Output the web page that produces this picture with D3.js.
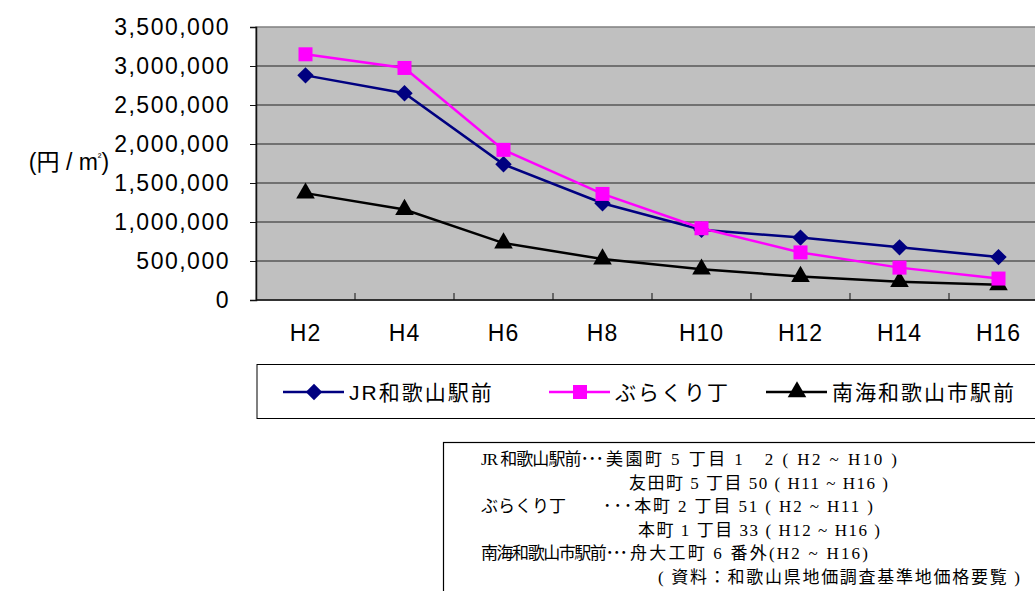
<!DOCTYPE html>
<html>
<head>
<meta charset="utf-8">
<script src="https://cdn.jsdelivr.net/npm/d3@7/dist/d3.min.js"></script>
<style>
  html, body { margin: 0; padding: 0; background: #fff; }
  svg { display: block; }
  .num { font-family: "Liberation Sans", Arial, sans-serif; }
  .jp { font-family: "Liberation Sans", "Noto Sans CJK JP", sans-serif; }
  .note { font-family: "Liberation Serif", "Noto Sans CJK JP", serif; }
</style>
</head>
<body>
<svg id="chart" width="1035" height="591"></svg>
<script>
// Land price per square metre around Wakayama station areas (Heisei years)
const categories = ["H2", "H4", "H6", "H8", "H10", "H12", "H14", "H16"];
const jrWakayama   = [2880000, 2650000, 1740000, 1240000, 900000, 800000, 675000, 550000];
const burakuri     = [3150000, 2975000, 1925000, 1360000, 920000, 610000, 415000, 275000];
const nankaiShi    = [1370000, 1160000, 730000, 525000, 395000, 300000, 235000, 195000];
const seriesNames  = ["JR和歌山駅前", "ぶらくり丁", "南海和歌山市駅前"];
const yTicks       = [0, 500000, 1000000, 1500000, 2000000, 2500000, 3000000, 3500000];
const yUnitLabel   = ["(円 / m", "²", ")"];
// note text segments: [text, start x, end x]
const noteLines = [
  [["JR 和歌山駅前･･･", 481, 604], ["美園町 5 丁目 1　2 ( H2 ~ H10 )", 606, 897]],
  [["友田町 5 丁目 50 ( H11 ~ H16 )", 629, 888]],
  [["ぶらくり丁", 481, 566], ["･･･本町 2 丁目 51 ( H2 ~ H11 )", 603, 873]],
  [["本町 1 丁目 33 ( H12 ~ H16 )", 638, 880]],
  [["南海和歌山市駅前･･･", 481, 628], ["舟大工町 6 番外(H2 ~ H16)", 630, 868]],
  [["( 資料：和歌山県地価調査基準地価格要覧 )", 658, 1020]]
];

const svg = d3.select("#chart");

const plot = { left: 256, top: 27, width: 792, height: 273 };
const x = d3.scaleBand().domain(categories).range([plot.left, plot.left + plot.width]);
const y = d3.scaleLinear().domain([0, 3500000]).range([plot.top + plot.height, plot.top]);
const cx = d => x(d) + x.bandwidth() / 2;

// plot area background
svg.append("rect")
  .attr("x", plot.left).attr("y", plot.top)
  .attr("width", plot.width).attr("height", plot.height)
  .attr("fill", "#c0c0c0").attr("stroke", "#808080").attr("stroke-width", 1.5);

// horizontal gridlines
svg.append("g").selectAll("line")
  .data(yTicks.filter(v => v > 0 && v < 3500000))
  .join("line")
  .attr("x1", plot.left).attr("x2", plot.left + plot.width)
  .attr("y1", d => y(d)).attr("y2", d => y(d))
  .attr("stroke", "#222").attr("stroke-width", 1);

// y axis
const yAxis = svg.append("g")
  .attr("transform", `translate(${plot.left},0)`)
  .call(d3.axisLeft(y).tickValues(yTicks).tickFormat(d3.format(",")).tickSize(6).tickPadding(20));
yAxis.select(".domain").attr("stroke", "#111").attr("stroke-width", 1.5);
yAxis.selectAll(".tick line").attr("stroke", "#111");
yAxis.selectAll("text")
  .attr("class", "num")
  .attr("font-size", 23)
  .attr("letter-spacing", "1.5px")
  .attr("fill", "#000");

// x axis (ticks between categories, pointing inward)
const xAxisG = svg.append("g").attr("transform", `translate(0,${plot.top + plot.height})`);
xAxisG.append("line")
  .attr("x1", plot.left).attr("x2", plot.left + plot.width)
  .attr("stroke", "#111").attr("stroke-width", 1.5);
xAxisG.selectAll("line.tk")
  .data(categories.slice(1))
  .join("line").attr("class", "tk")
  .attr("x1", d => x(d)).attr("x2", d => x(d))
  .attr("y1", 0).attr("y2", -7)
  .attr("stroke", "#111");
xAxisG.selectAll("text")
  .data(categories)
  .join("text")
  .attr("class", "num")
  .attr("x", cx).attr("y", 41)
  .attr("text-anchor", "middle")
  .attr("font-size", 23)
  .attr("letter-spacing", "1px")
  .text(d => d);

// unit label (yen per square metre)
const unit = svg.append("text")
  .attr("class", "jp")
  .attr("x", 69).attr("y", 170)
  .attr("text-anchor", "middle")
  .attr("font-size", 23);
unit.append("tspan").text(yUnitLabel[0]);
unit.append("tspan").attr("font-size", 11).attr("dy", -9).text(yUnitLabel[1]);
unit.append("tspan").attr("dy", 9).text(yUnitLabel[2]);

// series
const diamond = d3.symbol().type(d3.symbolSquare).size(135)();
const seriesData = [
  { name: seriesNames[0], values: jrWakayama, color: "#000080", d: diamond, rot: 45 },
  { name: seriesNames[1], values: burakuri,   color: "#ff00ff", d: d3.symbol().type(d3.symbolSquare).size(196)(), rot: 0 },
  { name: seriesNames[2], values: nankaiShi,  color: "#000000", d: d3.symbol().type(d3.symbolTriangle).size(150)(), rot: 0 }
];

const line = d3.line().x((d, i) => cx(categories[i])).y(d => y(d));

const drawOrder = [seriesData[2], seriesData[0], seriesData[1]];
drawOrder.forEach(s => {
  svg.append("path")
    .datum(s.values)
    .attr("fill", "none")
    .attr("stroke", s.color)
    .attr("stroke-width", 2.5)
    .attr("d", line);
  svg.append("g").selectAll("path")
    .data(s.values)
    .join("path")
    .attr("transform", (d, i) => `translate(${cx(categories[i])},${y(d)}) rotate(${s.rot})`)
    .attr("d", s.d)
    .attr("fill", s.color);
});

// legend
svg.append("rect")
  .attr("x", 257).attr("y", 364.5)
  .attr("width", 800).attr("height", 54)
  .attr("fill", "#fff").attr("stroke", "#000").attr("stroke-width", 1);

const legendX = [283, 549, 766];
seriesData.forEach((s, i) => {
  const g = svg.append("g").attr("transform", `translate(${legendX[i]},392)`);
  g.append("line").attr("x1", 0).attr("x2", 61)
    .attr("stroke", s.color).attr("stroke-width", 2.5);
  g.append("path")
    .attr("transform", `translate(31,0) rotate(${s.rot})`)
    .attr("d", s.d)
    .attr("fill", s.color);
  g.append("text")
    .attr("class", "jp")
    .attr("x", 66).attr("y", 8)
    .attr("font-size", 21)
    .attr("letter-spacing", "2px")
    .text(s.name);
});

// notes box
svg.append("rect")
  .attr("x", 443.5).attr("y", 442.5)
  .attr("width", 700).attr("height", 200)
  .attr("fill", "#fff").attr("stroke", "#000").attr("stroke-width", 1.2);

noteLines.forEach((segs, r) => {
  segs.forEach(([txt, x0, x1]) => {
    svg.append("text")
      .attr("class", "note")
      .attr("x", x0).attr("y", 465 + r * 23.6)
      .attr("font-size", 17)
      .attr("textLength", x1 - x0)
      .attr("lengthAdjust", "spacing")
      .text(txt);
  });
});
</script>
</body>
</html>
